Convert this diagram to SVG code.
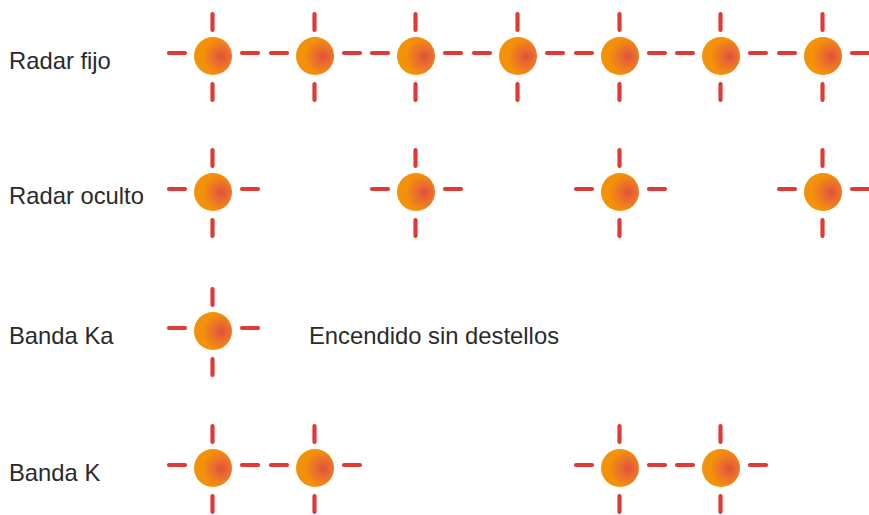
<svg xmlns="http://www.w3.org/2000/svg" width="869" height="515" viewBox="0 0 869 515">
<style>
text{font-family:"Liberation Sans",Arial,sans-serif;font-size:23.8px;fill:#2a2a2a}
.t{stroke:#df3a35;stroke-width:4.2;stroke-linecap:round;fill:none}
.c{fill:url(#g)}
</style>
<defs>
<radialGradient id="g" gradientUnits="objectBoundingBox" cx="0.72" cy="0.52" r="0.5">
<stop offset="0" stop-color="#e2503c"/><stop offset="0.45" stop-color="#eb6f2c"/><stop offset="1" stop-color="#f39208"/>
</radialGradient>
<g id="led">
<circle class="c" cx="0" cy="0" r="19"/>
<path class="t" d="M-.5-42V-26M-.5 28V44M-44-3H-28M29-3H45"/>
</g>
</defs>
<rect width="869" height="515" fill="#fff"/>
<g id="labels">
<text x="9" y="69">Radar fijo</text>
<text x="9" y="204">Radar oculto</text>
<text x="9" y="344">Banda Ka</text>
<text x="9" y="481">Banda K</text>
<text x="309" y="344">Encendido sin destellos</text>
</g>
<g id="row1">
<g id="r1a"><use href="#led" x="213" y="56"/></g>
<g id="r1b"><use href="#led" x="315" y="56"/></g>
<g id="r1c"><use href="#led" x="416" y="56"/></g>
<g id="r1d"><use href="#led" x="518" y="56"/></g>
<g id="r1e"><use href="#led" x="620" y="56"/></g>
<g id="r1f"><use href="#led" x="721" y="56"/></g>
<g id="r1g"><use href="#led" x="823" y="56"/></g>
</g>
<g id="row2">
<g id="r2a"><use href="#led" x="213" y="192"/></g>
<g id="r2b"><use href="#led" x="416" y="192"/></g>
<g id="r2c"><use href="#led" x="620" y="192"/></g>
<g id="r2d"><use href="#led" x="823" y="192"/></g>
</g>
<g id="row3">
<g id="r3a"><use href="#led" x="213" y="331"/></g>
</g>
<g id="row4">
<g id="r4a"><use href="#led" x="213" y="468"/></g>
<g id="r4b"><use href="#led" x="315" y="468"/></g>
<g id="r4c"><use href="#led" x="620" y="468"/></g>
<g id="r4d"><use href="#led" x="721" y="468"/></g>
</g>
</svg>
